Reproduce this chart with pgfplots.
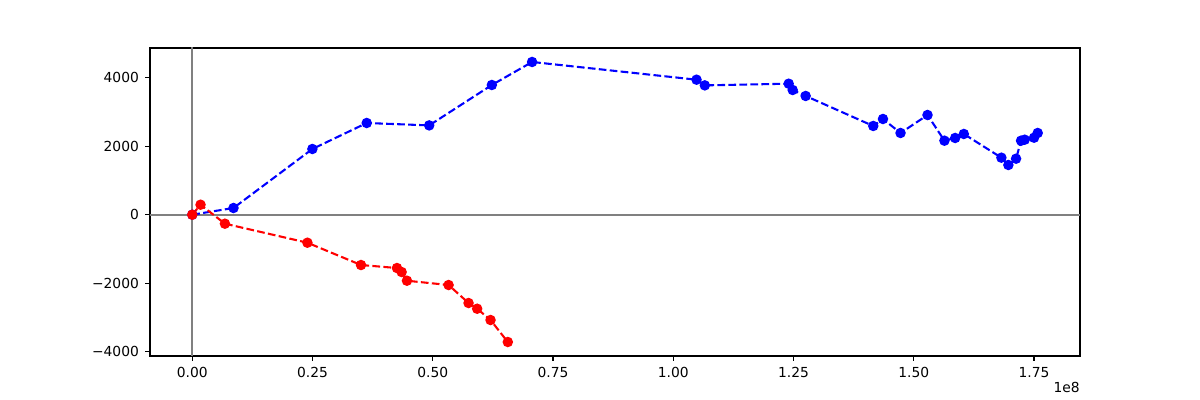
\documentclass[border=0pt]{standalone}
\usepackage{pgfplots}
\pgfplotsset{compat=1.18}
\usepackage{fontspec}
\setmainfont{DejaVu Sans}
\begin{document}
\begin{tikzpicture}[x=1pt,y=1pt]
\useasboundingbox (0,0) rectangle (867.24pt,289.08pt);
\begin{axis}[
  at={(108.4pt,31.8pt)}, anchor=south west,
  scale only axis, width=672.1pt, height=222.6pt,
  xmin=-0.0879, xmax=1.8456, ymin=-4131, ymax=4874,
  axis line style={line width=0.8pt},
  xtick={0,0.25,0.5,0.75,1,1.25,1.5,1.75},
  xticklabels={0.00,0.25,0.50,0.75,1.00,1.25,1.50,1.75},
  ytick={-4000,-2000,0,2000,4000},
  yticklabels={{\char"2212}4000,{\char"2212}2000,0,2000,4000},
  tick align=outside, tick pos=left,
  major tick length=3.5pt,
  every tick/.style={black, line width=0.8pt},
  tick label style={font=\fontsize{10}{12}\selectfont},
  /pgf/number format/assume math mode=true,
  scaled ticks=false,
  xticklabel style={yshift=-1pt},
  yticklabel style={xshift=-1pt},
  clip=true,
]
\draw[gray, line width=1.5pt] (axis cs:-1,0) -- (axis cs:3,0);
\draw[gray, line width=1.5pt] (axis cs:0,-5000) -- (axis cs:0,6000);
\addplot[blue, line width=1.5pt, dash pattern=on 5.55pt off 2.4pt, mark=*, mark size=3pt, mark options={solid, draw=blue, fill=blue}] coordinates {
(0,0) (0.0857,196) (0.2497,1921) (0.3627,2681) (0.4926,2611) (0.6228,3792)
(0.7065,4465) (1.0484,3947) (1.0656,3781) (1.2400,3830) (1.2483,3646)
(1.2753,3471) (1.4158,2594) (1.4360,2798) (1.4725,2389) (1.5286,2915)
(1.5638,2164) (1.5861,2243) (1.6041,2360) (1.6822,1667) (1.6967,1453)
(1.7127,1637) (1.7231,2164) (1.7307,2193) (1.7501,2251) (1.7577,2389)
};
\addplot[red, line width=1.5pt, dash pattern=on 5.55pt off 2.4pt, mark=*, mark size=3pt, mark options={solid, draw=red, fill=red}] coordinates {
(0,0) (0.0172,292) (0.0679,-263) (0.2394,-819) (0.3508,-1471) (0.4256,-1559)
(0.4353,-1676) (0.4463,-1930) (0.5329,-2056) (0.5744,-2582) (0.5923,-2749)
(0.6201,-3079) (0.6560,-3722)
};
\end{axis}
\node[anchor=east, font=\fontsize{10}{12}\selectfont, inner sep=0pt] at (780.5pt, 9.2pt) {1e8};
\end{tikzpicture}
\end{document}
